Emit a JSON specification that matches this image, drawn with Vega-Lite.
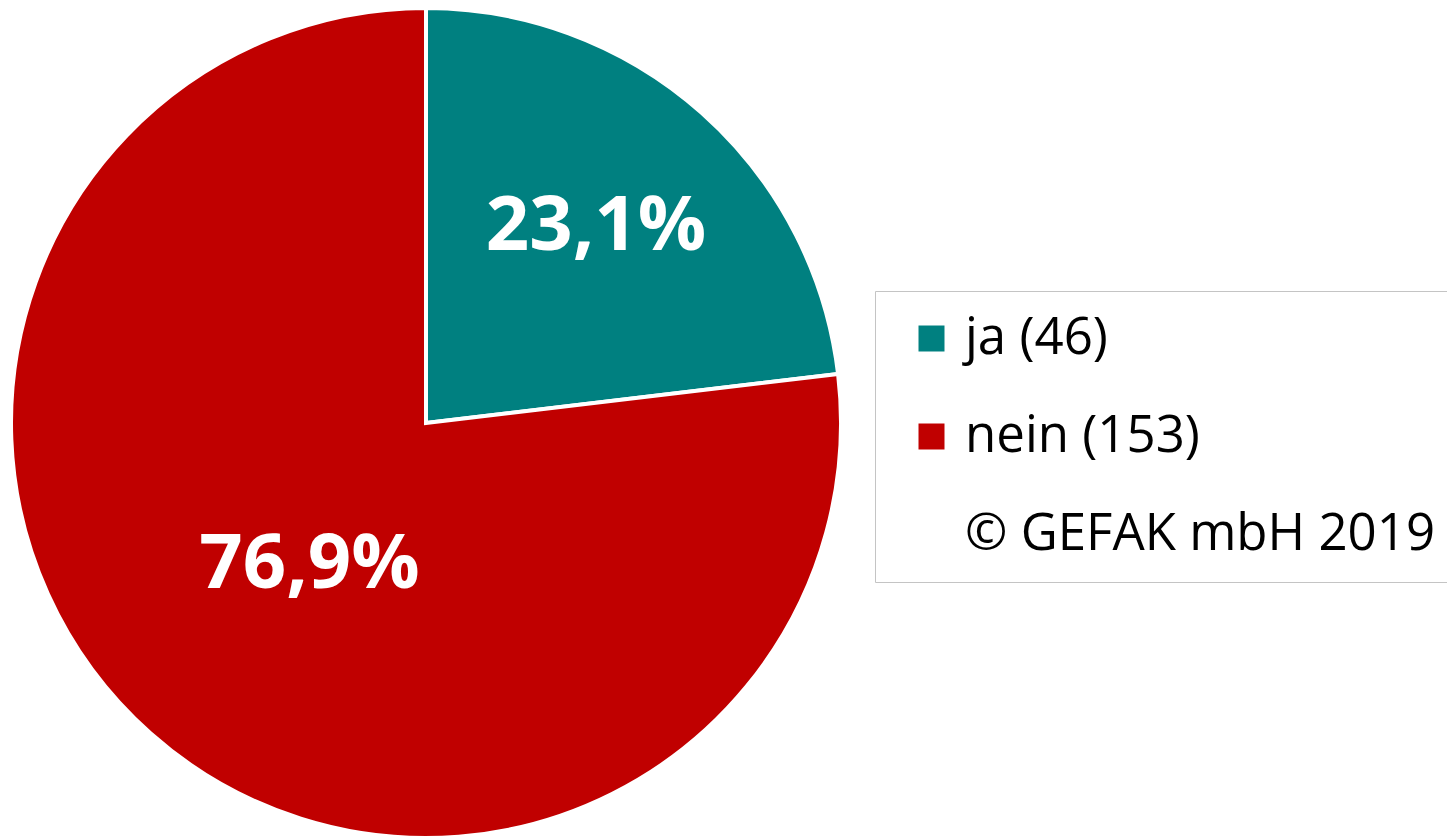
{
  "$schema": "https://vega.github.io/schema/vega-lite/v6.json",
  "width": 852,
  "height": 836,
  "padding": 0,
  "background": "white",
  "data": {
    "values": [
      {"antwort": "ja (46)", "anzahl": 46, "label": "23,1%"},
      {"antwort": "nein (153)", "anzahl": 153, "label": "76,9%"}
    ]
  },
  "layer": [
    {
      "mark": {"type": "arc", "outerRadius": 415, "stroke": "white", "strokeWidth": 4, "yOffset": 5},
      "encoding": {
        "theta": {"field": "anzahl", "type": "quantitative", "stack": true},
        "color": {
          "field": "antwort",
          "type": "nominal",
          "scale": {
            "domain": ["ja (46)", "nein (153)", "© GEFAK mbH 2019"],
            "range": ["#008080", "#C00000", "rgba(0,0,0,0)"]
          },
          "legend": {
            "title": null,
            "orient": "none",
            "legendX": 875,
            "legendY": 291,
            "direction": "vertical",
            "padding": 22,
            "fillColor": "white",
            "strokeColor": "#c4c4c4",
            "symbolType": "square",
            "symbolSize": 676,
            "symbolStrokeWidth": 0,
            "symbolOffset": 9,
            "labelFont": "Open Sans",
            "labelFontSize": 51,
            "labelColor": "black",
            "labelOffset": 8,
            "labelLimit": 1000,
            "rowPadding": 46
          }
        }
      }
    },
    {
      "mark": {"type": "text", "radius": 259, "yOffset": 5, "font": "Open Sans", "fontWeight": "bold", "fontSize": 76, "color": "white", "align": "center", "baseline": "middle", "dx": -2, "dy": -2},
      "encoding": {
        "theta": {"field": "anzahl", "type": "quantitative", "stack": true},
        "detail": {"field": "antwort", "type": "nominal"},
        "text": {"condition": {"test": "datum.antwort === 'ja (46)'", "field": "label"}, "value": ""}
      }
    },
    {
      "mark": {"type": "text", "radius": 183, "yOffset": 5, "font": "Open Sans", "fontWeight": "bold", "fontSize": 76, "color": "white", "align": "center", "baseline": "middle", "dx": 5, "dy": 5},
      "encoding": {
        "theta": {"field": "anzahl", "type": "quantitative", "stack": true},
        "detail": {"field": "antwort", "type": "nominal"},
        "text": {"condition": {"test": "datum.antwort === 'nein (153)'", "field": "label"}, "value": ""}
      }
    }
  ],
  "config": {"view": {"stroke": null}}
}
